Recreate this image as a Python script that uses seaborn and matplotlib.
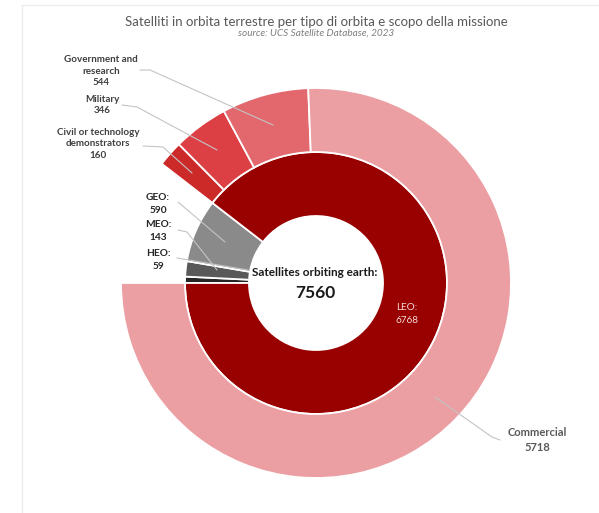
import matplotlib
matplotlib.use("Agg")
import matplotlib.pyplot as plt
import seaborn as sns
from matplotlib.lines import Line2D

# inner ring: orbit type
orbit_labels = ["HEO", "MEO", "GEO", "LEO"]
orbit_counts = [59, 143, 590, 6768]
orbit_colors = ["#262626", "#595959", "#8a8a8a", "#990000"]

# outer ring: mission purpose (LEO only)
purpose_labels = ["Civil or technology\ndemonstrators", "Military", "Government and\nresearch", "Commercial"]
purpose_counts = [160, 346, 544, 5718]
purpose_colors = ["#cc2929", "#dc3f44", "#e2686d", "#eb9fa2"]

W, H = 599, 513


def px(x, y):
    # image pixel coords -> axes data coords (y up)
    return x, H - y


sns.set_theme(style="white")
plt.rcParams['font.family'] = ['Lato', 'DejaVu Sans']

fig = plt.figure(figsize=(W / 100, H / 100), dpi=100)
ax = fig.add_axes([0, 0, 1, 1])

cx, cy = px(316, 283)
r_out, r_in, r_hole = 195, 131, 67

ax.pie(orbit_counts, radius=r_in, center=(cx, cy), colors=orbit_colors,
       startangle=180, counterclock=False,
       wedgeprops=dict(width=r_in - r_hole, edgecolor="white", linewidth=1.3))

outer_vals = [sum(orbit_counts[:3])] + purpose_counts
outer_cols = ["none"] + purpose_colors
wedges, _ = ax.pie(outer_vals, radius=r_out, center=(cx, cy), colors=outer_cols,
                   startangle=180, counterclock=False,
                   wedgeprops=dict(width=r_out - r_in, edgecolor="white", linewidth=1.3))
wedges[0].set_visible(False)

ax.set_xlim(0, W)
ax.set_ylim(0, H)
ax.set_aspect("equal")
ax.axis("off")

# title
ax.text(*px(316, 22), "Satelliti in orbita terrestre per tipo di orbita e scopo della missione",
        ha="center", va="center", fontsize=9.5, color="#595959")
ax.text(*px(316, 33), "source: UCS Satellite Database, 2023", ha="center", va="center",
        fontsize=7.2, style="italic", color="#7f7f7f")

# center text
ax.text(*px(315, 273), "Satellites orbiting earth:", ha="center", va="center",
        fontsize=8.5, fontweight="bold", color="#1a1a1a")
ax.text(*px(315, 293), str(sum(orbit_counts)), ha="center", va="center",
        fontsize=12.5, fontweight="bold", color="#1a1a1a")

# LEO label
ax.text(*px(407, 314), f"{orbit_labels[3]}:\n{orbit_counts[3]}", ha="center", va="center",
        fontsize=7.2, color="#f4dada", linespacing=1.5)

lc = "#c4c4c4"


def leader(points):
    xs = [p[0] for p in points]
    ys = [H - p[1] for p in points]
    ax.plot(xs, ys, color=lc, lw=0.8, solid_capstyle="round", zorder=5)


# orbit labels on the left
orbit_pos = [(158, 260), (158, 231), (158, 204)]
orbit_lines = [
    [(177, 258), (248, 270)],
    [(178, 230), (187, 232), (217, 270)],
    [(178, 202), (225, 242)],
]
for i in range(3):
    ax.text(*px(*orbit_pos[i]), f"{orbit_labels[i]}:\n{orbit_counts[i]}", ha="center", va="center",
            fontsize=7.3, fontweight="bold", color="#262626", linespacing=1.45)
    leader(orbit_lines[i])

# purpose labels
purpose_pos = [(98, 144), (102, 105), (101, 71), (537, 440)]
purpose_lines = [
    [(143, 146), (163, 147), (192, 173)],
    [(122, 105), (137, 107), (217, 150)],
    [(140, 70), (150, 70), (273, 125)],
    [(435, 397), (492, 437), (500, 440)],
]
for i in range(4):
    col = "#595959" if i == 3 else "#404040"
    fs = 8 if i == 3 else 7.1
    ax.text(*px(*purpose_pos[i]), f"{purpose_labels[i]}\n{purpose_counts[i]}", ha="center",
            va="center", fontsize=fs, fontweight="bold", color=col, linespacing=1.4)
    leader(purpose_lines[i])

# faint frame
fig.add_artist(Line2D([22 / W, 22 / W], [0, 1 - 5 / H], transform=fig.transFigure,
                      color="#ececec", lw=1))
fig.add_artist(Line2D([22 / W, 1], [1 - 5 / H, 1 - 5 / H], transform=fig.transFigure,
                      color="#ececec", lw=1))

fig.savefig("out.png", dpi=100)
